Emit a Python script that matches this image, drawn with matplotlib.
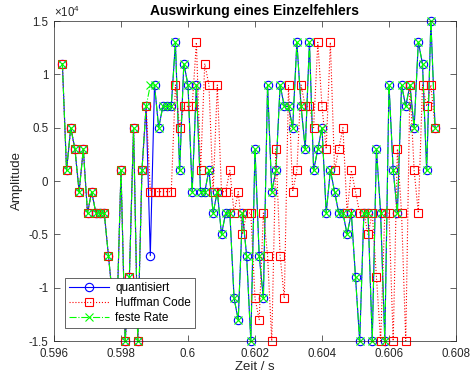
import numpy as np
import matplotlib
matplotlib.use("Agg")
import matplotlib.pyplot as plt
from matplotlib.ticker import FuncFormatter

plt.rcParams['font.family'] = ['Liberation Sans', 'DejaVu Sans']
plt.rcParams['mathtext.fontset'] = 'custom'
plt.rcParams['mathtext.rm'] = 'Liberation Sans'

# sampling grid (8 kHz), first sample index
fs = 8000
n_start = 4770

# amplitudes in units of 1000
quantisiert = [11, 1, 5, 3, -1, 3, -3, -1, -3, -3,
               -3, -7, -11, -13, 1, -15, -9, 5, -15, 1,
               7, -7, 9, 5, 7, 7, 7, 13, 1, 11,
               9, -1, 9, -1, -1, 1, -3, -1, -5, -3,
               -3, -11, -13, -3, -7, -15, 3, -7, -11, 9,
               -1, 1, 9, 7, 7, 5, 13, 7, 3, 13,
               1, 3, 5, -3, 1, -1, -3, -3, -5, -3,
               -9, -15, -3, -3, -15, 3, -3, -15, 9, 1,
               -3, 9, 7, 9, 5, 13, 11, 1, 15, 5]

huffman = [11, 1, 5, 3, -1, 3, -3, -1, -3, -3,
           -3, -7, -11, -13, 1, -15, -9, 5, -15, 1,
           7, -1, -1, -1, -1, -1, -1, 9, 5, 7,
           7, 7, 13, 1, 11, 9, -1, 9, -1, -1,
           1, -3, -1, -5, -3, -3, -11, -13, -3, -7,
           -15, 3, -7, -11, 9, -1, 1, 9, 7, 7,
           5, 13, 7, 3, 13, 1, 3, 5, -3, 1,
           -1, -3, -3, -5, -3, -9, -15, -3, -3, -15,
           3, -3, -15, 9, 1, -3, 9, 7, 9, 5]

feste_rate = [11, 1, 5, 3, -1, 3, -3, -1, -3, -3,
              -3, -7, -11, -13, 1, -15, -9, 5, -15, 1,
              7, 9, 9, 5, 7, 7, 7, 13, 1, 11,
              9, -1, 9, -1, -1, 1, -3, -1, -5, -3,
              -3, -11, -13, -3, -7, -15, 3, -7, -11, 9,
              -1, 1, 9, 7, 7, 5, 13, 7, 3, 13,
              1, 3, 5, -3, 1, -1, -3, -3, -5, -3,
              -9, -15, -3, -3, -15, 3, -3, -15, 9, 1,
              -3, 9, 7, 9, 5, 13, 11, 1, 15, 5]

t = (n_start + np.arange(len(quantisiert))) / fs

fig = plt.figure(figsize=(4.71, 3.75), dpi=100)
ax = fig.add_axes([54 / 471, 1 - 341 / 375, 402 / 471, 320 / 375])

ax.plot(t, np.array(quantisiert) * 1000, '-o', color='b', mfc='none', ms=6,
        lw=0.8, mew=0.8, label='quantisiert', clip_on=False)
ax.plot(t, np.array(huffman) * 1000, ':s', color='r', mfc='none', ms=6,
        lw=0.8, mew=0.8, label='Huffman Code', clip_on=False)
ax.plot(t, np.array(feste_rate) * 1000, '-.x', color=(0, 1, 0), ms=6,
        lw=0.8, mew=0.8, label='feste Rate', clip_on=False)

ax.set_xlim(0.596, 0.608)
ax.set_ylim(-15000, 15000)
ax.set_xticks(np.arange(0.596, 0.6081, 0.002))
ax.set_yticks(np.arange(-15000, 15001, 5000))
ax.xaxis.set_major_formatter(FuncFormatter(lambda v, p: '%g' % round(v, 4)))
ax.yaxis.set_major_formatter(FuncFormatter(lambda v, p: '%g' % (v / 1e4)))

ax.tick_params(direction='in', top=True, right=True, length=4, width=0.5,
               labelsize=8.3, colors='0.15')
ax.tick_params(axis='x', pad=5)
ax.tick_params(axis='y', pad=4)
for s in ax.spines.values():
    s.set_linewidth(0.5)
    s.set_color('0.15')

ax.text(0, 1.004, r'$\times\mathrm{10}^{\mathrm{4}}$', transform=ax.transAxes,
        ha='left', va='bottom', fontsize=8.3, color='0.15')

ax.set_title('Auswirkung eines Einzelfehlers', fontsize=10, fontweight='bold', pad=4)
ax.set_xlabel('Zeit / s', fontsize=9.5, color='0.15', labelpad=1)
ax.set_ylabel('Amplitude', fontsize=9.5, color='0.15', labelpad=4)

leg = ax.legend(loc='lower left', bbox_to_anchor=(0.027, 0.04), borderaxespad=0,
                fontsize=8.5, handlelength=3.4, fancybox=False, framealpha=1,
                edgecolor='0.15', borderpad=0.35, labelspacing=0.25, handletextpad=0.5)
leg.get_frame().set_linewidth(0.5)

fig.savefig('out.png', dpi=100)
